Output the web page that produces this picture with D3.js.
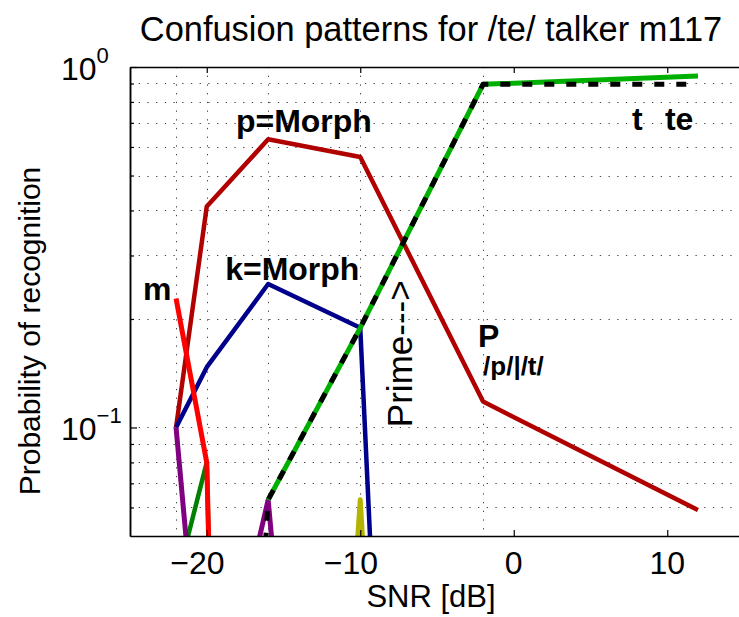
<!DOCTYPE html>
<html>
<head>
<meta charset="utf-8">
<script src="https://cdn.jsdelivr.net/npm/d3@7"></script>
<style>
  html, body { margin: 0; padding: 0; background: #fff; }
  svg { display: block; }
  text { font-family: "Liberation Sans", Arial, Helvetica, sans-serif; fill: #000; }
</style>
</head>
<body>
<svg id="chart" width="739" height="617"></svg>
<script>
// SNR levels (dB) at which recognition was measured
const snr = [-22, -20, -16, -10, -2, 12];

// Probability of each response to the /te/ token (tiny values = essentially never heard)
const pMorph  = [0.100, 0.410, 0.630, 0.563, 0.118, 0.059];   // /p/
const kMorph  = [0.100, 0.147, 0.250, 0.189, 1e-8, 1e-8];     // /k/
const mResp   = [0.228, 0.080, 1e-8, 1e-8, 1e-8, 1e-8];       // /m/
const purple  = [0.100, 0.0115, 0.063, 1e-4, 1e-8, 1e-8];
const dgreen  = [0.037, 0.080, 1e-8, 1e-8, 1e-8, 1e-8];
const olive   = [1e-8, 1e-8, 1e-5, 0.063, 1e-7, 1e-8];
const teResp  = [null, null, 0.063, 0.189, 0.895, 0.944];     // te
const tResp   = [null, 1e-4, 0.063, 0.189, 0.895, 0.895];     // t

// SNRs with vertical reference lines
const gridSnr = [-22, -20, -16, -10, -2];

// Axis ticks
const xTicks = [-20, -10, 0, 10];
const yMajor = [0.1, 1];
const yMinor = [0.06, 0.07, 0.08, 0.09, 0.2, 0.3, 0.4, 0.5, 0.6, 0.7, 0.8, 0.9];
const yTickLabels = [{ v: 0.1, base: "10", exp: "\u22121" }, { v: 1, base: "10", exp: "0" }];

const svg = d3.select("#chart");
const plotL = 130, plotR = 744, plotT = 67, plotB = 536;

const x = d3.scaleLinear().domain([-25, 15]).range([plotL, plotR]);
const y = d3.scaleLog().domain([0.05, 1]).range([plotB, plotT]);

svg.append("defs").append("clipPath").attr("id", "plotclip")
  .append("rect").attr("x", plotL).attr("y", plotT)
  .attr("width", plotR - plotL).attr("height", plotB - plotT);

// dotted grid
const grid = svg.append("g").attr("stroke", "#444").attr("stroke-width", 1)
  .attr("stroke-dasharray", "1.3,7.4").attr("fill", "none");
grid.selectAll("line.h").data(yMajor.concat(yMinor)).join("line")
  .attr("x1", plotL).attr("x2", plotR)
  .attr("y1", d => Math.round(y(d)) + 0.5).attr("y2", d => Math.round(y(d)) + 0.5);
grid.selectAll("line.v").data(gridSnr).join("line")
  .attr("y1", plotT).attr("y2", plotB)
  .attr("x1", d => Math.round(x(d)) + 0.5).attr("x2", d => Math.round(x(d)) + 0.5);

// response curves
const series = [
  { v: pMorph, color: "#b00000", w: 4.5 },
  { v: kMorph, color: "#00008b", w: 4.5 },
  { v: dgreen, color: "#008000", w: 4.5 },
  { v: mResp,  color: "#ff0000", w: 5 },
  { v: purple, color: "#800080", w: 5 },
  { v: olive,  color: "#b3b300", w: 5 },
  { v: teResp, color: "#00b000", w: 5 },
  { v: tResp,  color: "#000000", w: 5, dash: "10,12" }
];

const line = d3.line()
  .defined(d => d.p != null)
  .x(d => x(d.s))
  .y(d => y(d.p));

const curves = svg.append("g").attr("clip-path", "url(#plotclip)");
series.forEach(s => {
  curves.append("path")
    .datum(snr.map((sv, i) => ({ s: sv, p: s.v[i] })))
    .attr("d", line)
    .attr("fill", "none")
    .attr("stroke", s.color)
    .attr("stroke-width", s.w)
    .attr("stroke-linejoin", "round")
    .attr("stroke-dasharray", s.dash || null);
});

// axes (ticks point into the plot)
const axisStyle = g => {
  g.selectAll("path.domain").attr("stroke", "#000").attr("stroke-width", 1.5);
  g.selectAll(".tick line").attr("stroke", "#000").attr("stroke-width", 1.2);
  g.selectAll(".tick text").remove();
};
svg.append("g").attr("transform", `translate(0,${plotB})`)
  .call(d3.axisBottom(x).tickValues(xTicks).tickSizeInner(-6).tickSizeOuter(0).tickFormat(""))
  .call(axisStyle);
svg.append("g").attr("transform", `translate(0,${plotT})`)
  .call(d3.axisTop(x).tickValues(xTicks).tickSizeInner(-6).tickSizeOuter(0).tickFormat(""))
  .call(axisStyle);
svg.append("g").attr("transform", `translate(${plotL},0)`)
  .call(d3.axisLeft(y).tickValues(yMajor).tickSizeInner(-7).tickSizeOuter(0).tickFormat(""))
  .call(axisStyle);
svg.append("g").attr("transform", `translate(${plotL},0)`)
  .call(d3.axisLeft(y).tickValues(yMinor).tickSizeInner(-4).tickSizeOuter(0).tickFormat(""))
  .call(axisStyle);

// x tick labels: digits centred on the tick, minus sign hangs to the left
const tickFont = 32;
const xl = svg.append("g").attr("font-size", tickFont);
xTicks.forEach(t => {
  const digits = String(Math.abs(t));
  const probe = xl.append("text").text(digits);
  const wd = probe.node().getComputedTextLength();
  probe.remove();
  xl.append("text")
    .attr("x", x(t) + wd / 2).attr("y", 574)
    .attr("text-anchor", "end")
    .text(t < 0 ? "\u2212" + digits : digits);
});

// y tick labels with superscript exponents
yTickLabels.forEach(d => {
  const t = svg.append("text").attr("x", 61).attr("y", y(d.v) + 12.5).attr("font-size", tickFont);
  t.append("tspan").text(d.base);
  t.append("tspan").attr("font-size", 22).attr("dy", -17).text(d.exp);
});

// titles
svg.append("text").attr("x", 431).attr("y", 41).attr("text-anchor", "middle")
  .attr("font-size", 34.4).text("Confusion patterns for /te/ talker m117");
svg.append("text").attr("x", 431).attr("y", 607).attr("text-anchor", "middle")
  .attr("font-size", 31).text("SNR [dB]");
svg.append("text").attr("transform", "translate(40,331) rotate(-90)").attr("text-anchor", "middle")
  .attr("font-size", 30).text("Probability of recognition");

// curve annotations (data coordinates)
const notes = svg.append("g").attr("font-weight", "bold").attr("font-size", 32);
const note = (sx, py, txt) => notes.append("text").attr("x", x(sx)).attr("y", y(py)).text(txt);
note(-18.1, 0.66, "p=Morph");
note(-18.8, 0.257, "k=Morph");
note(-24.15, 0.226, "m");
note(7.7, 0.668, "t");
note(9.85, 0.668, "te");
note(-2.33, 0.167, "P");
notes.append("text").attr("x", x(-2.0)).attr("y", y(0.1395)).attr("font-size", 26).text("/p/|/t/");

// "Prime--->" reads upward; its arrow tip ends just below the /p/–/t/ crossover
svg.append("text")
  .attr("transform", `translate(${x(-6.63)},${y(0.256)}) rotate(-90)`)
  .attr("text-anchor", "end")
  .attr("font-size", 35).text("Prime--->");
</script>
</body>
</html>
